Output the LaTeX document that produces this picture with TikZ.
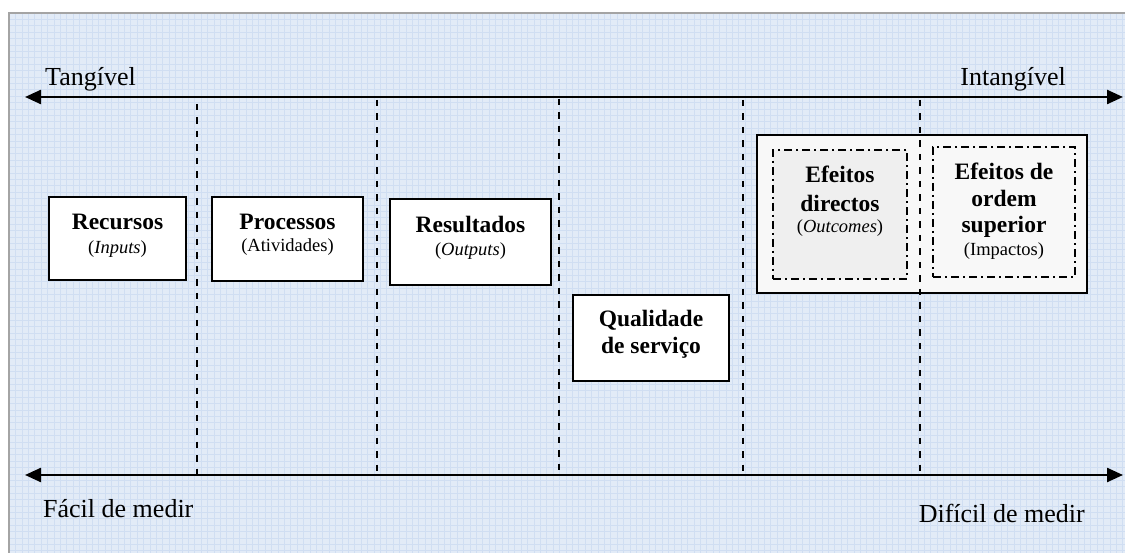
\documentclass[tikz,border=0pt]{standalone}
\usepackage{fontspec}
\setmainfont{Liberation Serif}
\usetikzlibrary{arrows.meta}
\definecolor{paper}{HTML}{E2EBF7}
\definecolor{gridline}{HTML}{D0DEF2}
\definecolor{framegray}{HTML}{A4A4A4}
\definecolor{panelfill}{HTML}{F8F8F8}
\definecolor{innerfill}{HTML}{EFEFEF}
\begin{document}
\begin{tikzpicture}[x=1pt,y=-1pt,
  box/.style={draw=black, line width=2.4pt, fill=white, inner sep=0pt},
  panel/.style={draw=black, line width=2.4pt, fill=panelfill, inner sep=0pt},
  effbox/.style={draw=black, line width=2pt, dash pattern=on 8pt off 4pt on 2pt off 4pt, inner sep=0pt},
  divider/.style={line width=2.2pt, dash pattern=on 6.5pt off 7pt},
  axis/.style={line width=2.4pt, {Triangle[length=16pt,width=14pt]}-{Triangle[length=16pt,width=14pt]}},
  axislabel/.style={font=\fontsize{26}{30}\selectfont, inner sep=0pt},
  boxtitle/.style={font=\fontsize{23.5}{28}\selectfont\bfseries, inner sep=0pt, anchor=base},
  boxsub/.style={font=\fontsize{18.5}{22}\selectfont, inner sep=0pt, anchor=base},
]
\useasboundingbox (0,0) rectangle (1125,553);

% graph-paper background with a thin frame on the left and top
\fill[paper] (9,13) rectangle (1125,553);
\foreach \gx in {15.4,21.8,...,1125} \draw[gridline, line width=0.6pt] (\gx,13) -- (\gx,553);
\foreach \gy in {19.4,25.8,...,553} \draw[gridline, line width=0.6pt] (9,\gy) -- (1125,\gy);
\draw[framegray, line width=1.5pt] (9,553) -- (9,13) -- (1125,13);

% axes
\coordinate (tl) at (25,97);
\coordinate (tr) at (1123,97);
\coordinate (bl) at (25,475);
\coordinate (br) at (1123,475);
\draw[axis] (tl) -- (tr);
\draw[axis] (bl) -- (br);

\node[axislabel, anchor=base west] (tang) at (45,86) {Tangível};
\node[axislabel, anchor=base east] (intang) at (1066,86) {Intangível};
\node[axislabel, anchor=base west] (facil) at (43,517) {Fácil de medir};
\node[axislabel, anchor=base east] (dificil) at (1085,522) {Difícil de medir};

% boxes
\node[box, minimum width=137pt, minimum height=83pt] (rec) at (117.5,238.5) {};
\node[boxtitle] (recT) at (117.5,230) {Recursos};
\node[boxsub] (recS) at (117.5,254) {(\textit{Inputs})};

\node[box, minimum width=151pt, minimum height=84pt] (proc) at (287.5,239) {};
\node[boxtitle] (procT) at (287.5,230) {Processos};
\node[boxsub] (procS) at (287.5,251.5) {(Atividades)};

\node[box, minimum width=161pt, minimum height=86pt] (res) at (470.5,242) {};
\node[boxtitle] (resT) at (470.5,233) {Resultados};
\node[boxsub] (resS) at (470.5,255.5) {(\textit{Outputs})};

\node[box, minimum width=156pt, minimum height=86pt] (qual) at (651,338) {};
\node[boxtitle] (qualT) at (651,327) {Qualidade};
\node[boxtitle] (qualT2) at (651,354) {de serviço};

\node[panel, minimum width=330pt, minimum height=158pt] (eff) at (922,214) {};

% dividers
\foreach \dx/\dy in {197/104, 377/100, 559/99, 743/100, 920/100}
  \draw[divider] (\dx,\dy) -- (\dx,475);

\node[effbox, fill=innerfill, minimum width=134pt, minimum height=129pt] (dir) at (840,214.5) {};
\node[boxtitle] (dirT) at (840,183) {Efeitos};
\node[boxtitle] (dirT2) at (840,211.5) {directos};
\node[boxsub] (dirS) at (840,233) {(\textit{Outcomes})};

\node[effbox, fill=panelfill, minimum width=142pt, minimum height=130pt] (imp) at (1004,212) {};
\node[boxtitle] (impT) at (1004,180) {Efeitos de};
\node[boxtitle] (impT2) at (1004,207) {ordem};
\node[boxtitle] (impT3) at (1004,233) {superior};
\node[boxsub] (impS) at (1004,256) {(Impactos)};
\end{tikzpicture}
\end{document}
